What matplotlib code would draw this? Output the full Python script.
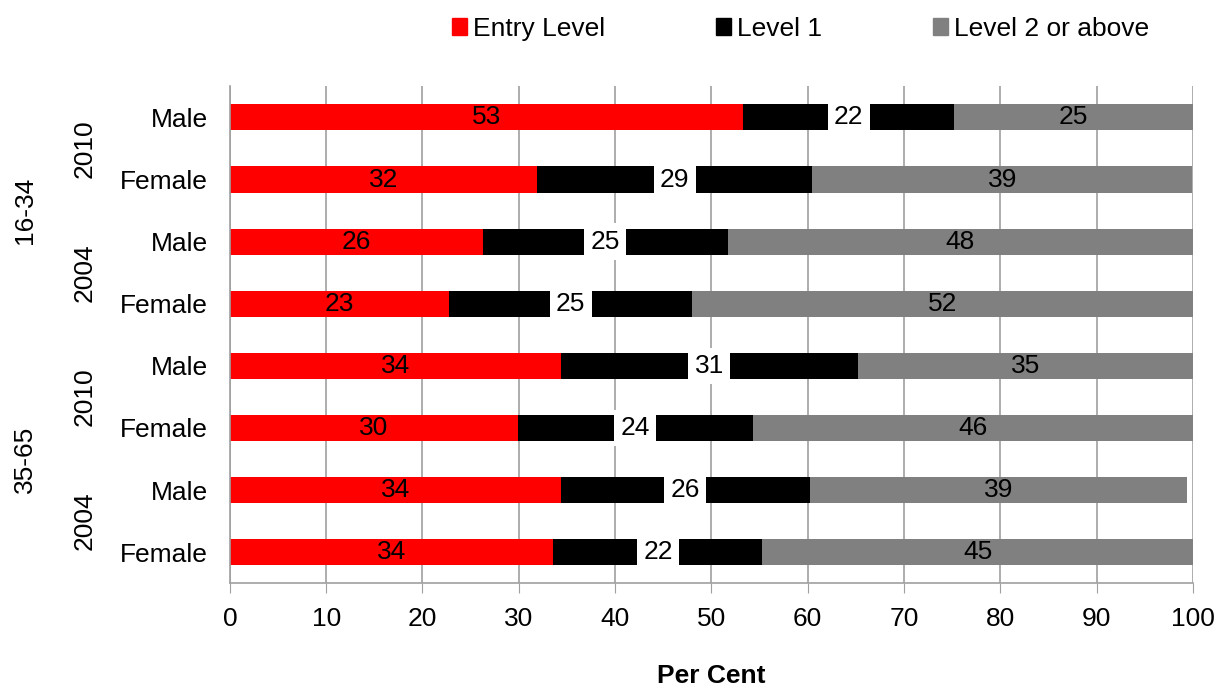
import matplotlib.pyplot as plt
import matplotlib.transforms as mtransforms
from matplotlib.patches import Patch

plt.rcParams['font.family'] = ['Liberation Sans', 'DejaVu Sans']

# Datos (de arriba hacia abajo)
sexes = ['Male', 'Female', 'Male', 'Female', 'Male', 'Female', 'Male', 'Female']
years = ['2010', '2004', '2010', '2004']
ages = ['16-34', '35-65']
entry = [53.3, 31.9, 26.3, 22.8, 34.4, 29.9, 34.4, 33.6]
level1 = [21.9, 28.6, 25.4, 25.2, 30.8, 24.4, 25.8, 21.7]
level2 = [24.8, 39.4, 48.3, 52.0, 34.8, 45.7, 39.2, 44.7]

fs = 19
fig = plt.figure(figsize=(12.16, 6.91), dpi=100)
ax = fig.add_axes([0.189, 0.156, 0.792, 0.719])

y = list(range(len(sexes)))
h = 0.42
left2 = [a + b for a, b in zip(entry, level1)]
b0 = ax.barh(y, entry, height=h, color='#ff0000', label='Entry Level', zorder=2)
b1 = ax.barh(y, level1, left=entry, height=h, color='#000000', label='Level 1', zorder=2)
b2 = ax.barh(y, level2, left=left2, height=h, color='#808080', label='Level 2 or above', zorder=2)

ax.bar_label(b0, fmt='%.0f', label_type='center', fontsize=fs, color='black')
ax.bar_label(b1, fmt='%.0f', label_type='center', fontsize=fs, color='black',
             bbox=dict(facecolor='white', edgecolor='none', pad=4.5))
ax.bar_label(b2, fmt='%.0f', label_type='center', fontsize=fs, color='black')

ax.set_xlim(0, 100)
ax.set_ylim(len(sexes) - 0.5, -0.5)
ax.set_xticks(range(0, 101, 10))
ax.set_yticks(y)
ax.set_yticklabels(sexes)
ax.tick_params(axis='x', labelsize=fs, length=7, color='#a0a0a0', pad=10)
ax.tick_params(axis='y', labelsize=fs, length=0, pad=16)
ax.grid(axis='x', color='#a0a0a0', linewidth=1.2, zorder=0)
ax.set_axisbelow(True)
for s in ['top', 'right']:
    ax.spines[s].set_visible(False)
for s in ['left', 'bottom']:
    ax.spines[s].set_color('#a0a0a0')
    ax.spines[s].set_linewidth(1.2)

# Etiquetas de grupo en el eje y
trans = mtransforms.blended_transform_factory(fig.transFigure, ax.transData)
for i, yr in enumerate(years):
    ax.text(85 / 1216, 2 * i + 0.5, yr, transform=trans, rotation=90,
            ha='center', va='center', fontsize=fs)
for i, ag in enumerate(ages):
    ax.text(25 / 1216, 4 * i + 1.5, ag, transform=trans, rotation=90,
            ha='center', va='center', fontsize=fs)

ax.set_xlabel('Per Cent', fontsize=fs, fontweight='bold', labelpad=24)

handles = [Patch(color='#ff0000'), Patch(color='#000000'), Patch(color='#808080')]
fig.legend(handles, ['Entry Level', 'Level 1', 'Level 2 or above'], loc='upper center',
           bbox_to_anchor=(0.658, 1.01), ncol=3, frameon=False, fontsize=fs,
           handlelength=0.6, handleheight=0.6, handletextpad=0.2, columnspacing=4.2)

fig.savefig('out.png', dpi=100)
